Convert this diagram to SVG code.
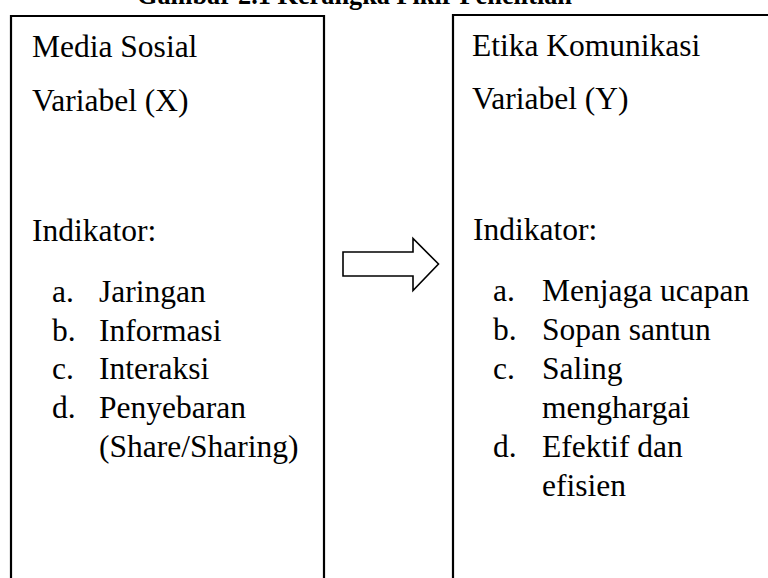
<svg xmlns="http://www.w3.org/2000/svg" width="768" height="578" viewBox="0 0 768 578">
<style>
.lbl{font-family:'Liberation Serif','Times New Roman',Times,serif;font-size:31.5px;fill:#000}
.ttl{font-family:'Liberation Serif','Times New Roman',Times,serif;font-size:26.3px;font-weight:bold;fill:#000}
.box{fill:#fff;stroke:#000;stroke-width:2.2}
.arrow{fill:#fff;stroke:#000;stroke-width:1.6;stroke-linejoin:miter}
</style>
<rect width="768" height="578" fill="#fff"/>
<text class="ttl" x="137" y="4" textLength="435" lengthAdjust="spacingAndGlyphs">Gambar 2.1 Kerangka Pikir Penelitian</text>
<g id="node-x">
<path class="box" d="M11,582 V16 H324 V582"/>
<text class="lbl" x="32" y="57">Media Sosial</text>
<text class="lbl" x="32" y="111">Variabel (X)</text>
<text class="lbl" x="32" y="241">Indikator:</text>
<text class="lbl" x="52" y="302">a.</text><text class="lbl" x="99" y="302">Jaringan</text>
<text class="lbl" x="52" y="341">b.</text><text class="lbl" x="99" y="341">Informasi</text>
<text class="lbl" x="52" y="379">c.</text><text class="lbl" x="99" y="379">Interaksi</text>
<text class="lbl" x="52" y="418">d.</text><text class="lbl" x="99" y="418">Penyebaran</text>
<text class="lbl" x="99" y="457">(Share/Sharing)</text>
</g>
<g id="node-y">
<path class="box" d="M453,582 V15 H772"/>
<text class="lbl" x="472" y="56">Etika Komunikasi</text>
<text class="lbl" x="472" y="109">Variabel (Y)</text>
<text class="lbl" x="473" y="240">Indikator:</text>
<text class="lbl" x="493" y="301">a.</text><text class="lbl" x="542" y="301">Menjaga ucapan</text>
<text class="lbl" x="493" y="340">b.</text><text class="lbl" x="542" y="340">Sopan santun</text>
<text class="lbl" x="493" y="379">c.</text><text class="lbl" x="542" y="379">Saling</text>
<text class="lbl" x="542" y="418">menghargai</text>
<text class="lbl" x="493" y="457">d.</text><text class="lbl" x="542" y="457">Efektif dan</text>
<text class="lbl" x="542" y="496">efisien</text>
</g>
<g id="connectors">
<path class="arrow" d="M343,252 H413 V238.5 L438.5,264 L413,290.5 V276 H343 Z"/>
</g>
</svg>
